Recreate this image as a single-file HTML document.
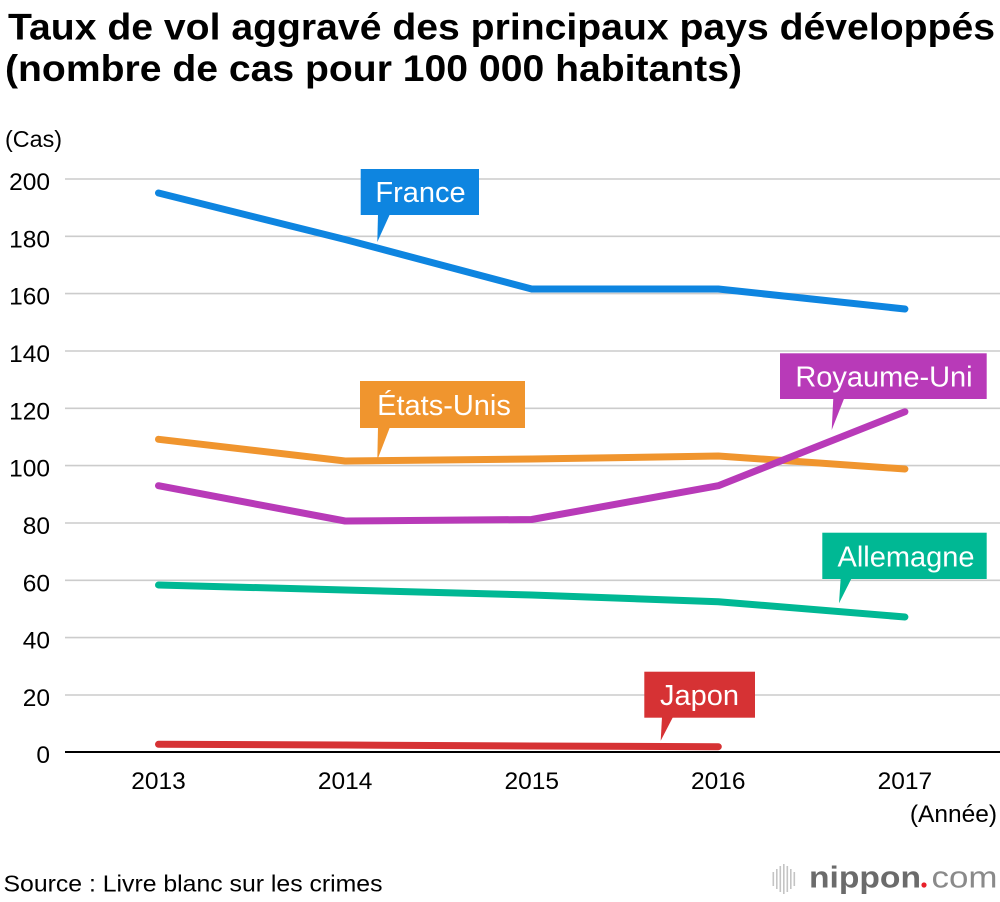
<!DOCTYPE html>
<html>
<head>
<meta charset="utf-8">
<style>
  html, body { margin:0; padding:0; background:#fff; }
  svg { display:block; }
  text { font-family: "Liberation Sans", "DejaVu Sans", sans-serif; }
</style>
</head>
<body>
<svg width="1000" height="902" viewBox="0 0 1000 902" xmlns="http://www.w3.org/2000/svg">
  <rect width="1000" height="902" fill="#fff"/>

  <!-- Title -->
  <text x="8" y="39.5" font-size="37" font-weight="bold" fill="#000" textLength="987" lengthAdjust="spacingAndGlyphs">Taux de vol aggravé des principaux pays développés</text>
  <text x="5" y="81" font-size="37" font-weight="bold" fill="#000" textLength="737" lengthAdjust="spacingAndGlyphs">(nombre de cas pour 100 000 habitants)</text>

  <!-- Unit -->
  <text x="5" y="147" font-size="23" fill="#000" textLength="57" lengthAdjust="spacingAndGlyphs">(Cas)</text>

  <!-- Gridlines -->
  <g stroke="#cccccc" stroke-width="1.6">
    <line x1="65" y1="179" x2="1000" y2="179"/>
    <line x1="65" y1="236.3" x2="1000" y2="236.3"/>
    <line x1="65" y1="293.6" x2="1000" y2="293.6"/>
    <line x1="65" y1="351" x2="1000" y2="351"/>
    <line x1="65" y1="408.3" x2="1000" y2="408.3"/>
    <line x1="65" y1="465.6" x2="1000" y2="465.6"/>
    <line x1="65" y1="523" x2="1000" y2="523"/>
    <line x1="65" y1="580.3" x2="1000" y2="580.3"/>
    <line x1="65" y1="637.6" x2="1000" y2="637.6"/>
    <line x1="65" y1="695" x2="1000" y2="695"/>
  </g>
  <line x1="65" y1="752" x2="1000" y2="752" stroke="#000" stroke-width="2"/>

  <!-- Y tick labels -->
  <g font-size="24.5" fill="#000" text-anchor="end">
    <text x="50" y="190">200</text>
    <text x="50" y="247.3">180</text>
    <text x="50" y="304.6">160</text>
    <text x="50" y="362">140</text>
    <text x="50" y="419.3">120</text>
    <text x="50" y="476.6">100</text>
    <text x="50" y="534">80</text>
    <text x="50" y="591.3">60</text>
    <text x="50" y="648.6">40</text>
    <text x="50" y="706">20</text>
    <text x="50" y="763">0</text>
  </g>

  <!-- X tick labels -->
  <g font-size="24.5" fill="#000" text-anchor="middle">
    <text x="158.5" y="789">2013</text>
    <text x="345.1" y="789">2014</text>
    <text x="531.7" y="789">2015</text>
    <text x="718.3" y="789">2016</text>
    <text x="904.9" y="789">2017</text>
  </g>
  <text x="997" y="822" font-size="24.5" fill="#000" text-anchor="end">(Année)</text>

  <!-- Series -->
  <g fill="none" stroke-width="7" stroke-linecap="round" stroke-linejoin="round">
    <polyline stroke="#d63234" points="158.5,744.3 345.1,745 531.7,746 718.3,746.7"/>
    <polyline stroke="#00b894" points="158.5,585 345.1,590 531.7,595 718.3,601.7 904.9,617"/>
    <polyline stroke="#f0952e" points="158.5,439.3 345.1,461 531.7,459 718.3,456 904.9,469"/>
    <polyline stroke="#b83ab8" points="158.5,485.7 345.1,521 531.7,519.5 718.3,485.7 904.9,411.7"/>
    <polyline stroke="#0e85e0" points="158.5,193 345.1,239.5 531.7,289 718.3,289 904.9,309"/>
  </g>

  <!-- Labels -->
  <g font-size="29" fill="#fff" text-anchor="middle">
    <!-- France -->
    <rect x="360.7" y="169" width="118.3" height="46" fill="#0e85e0"/>
    <polygon points="378,214 390,214 377.3,242" fill="#0e85e0"/>
    <text x="420.5" y="202">France</text>

    <!-- Etats-Unis -->
    <rect x="360" y="381" width="165" height="47" fill="#f0952e"/>
    <polygon points="378,427 390,427 377.3,460" fill="#f0952e"/>
    <text x="444" y="415">États-Unis</text>

    <!-- Royaume-Uni -->
    <rect x="780" y="353.3" width="206.7" height="45.7" fill="#b83ab8"/>
    <polygon points="833.3,398 844.3,398 831.7,430" fill="#b83ab8"/>
    <text x="884" y="386.5">Royaume-Uni</text>

    <!-- Allemagne -->
    <rect x="822.3" y="532.7" width="164.4" height="46.3" fill="#00b894"/>
    <polygon points="840.7,578 851.7,578 839,603.3" fill="#00b894"/>
    <text x="906" y="566.5">Allemagne</text>

    <!-- Japon -->
    <rect x="644.3" y="671.7" width="110.7" height="46" fill="#d63234"/>
    <polygon points="662,717 673,717 660.7,740.7" fill="#d63234"/>
    <text x="699.5" y="705">Japon</text>
  </g>

  <!-- Source -->
  <text x="3.5" y="891.5" font-size="23" fill="#000" textLength="379" lengthAdjust="spacingAndGlyphs">Source : Livre blanc sur les crimes</text>

  <!-- nippon.com logo -->
  <g fill="#c4c4c4">
    <rect x="772.5" y="872" width="1.6" height="14"/>
    <rect x="776" y="869" width="1.6" height="20"/>
    <rect x="779.5" y="866" width="1.6" height="26"/>
    <rect x="783" y="864" width="1.6" height="30"/>
    <rect x="786.5" y="866" width="1.6" height="26"/>
    <rect x="790" y="869" width="1.6" height="20"/>
    <rect x="793.5" y="872" width="1.6" height="14"/>
  </g>
  <text x="809" y="887.5" font-size="31" font-weight="bold" fill="#6b6b6b" textLength="112" lengthAdjust="spacingAndGlyphs">nippon</text>
  <circle cx="924" cy="885" r="2.6" fill="#e8202a"/>
  <text x="931.5" y="887.5" font-size="31" fill="#8a8a8a" textLength="66" lengthAdjust="spacingAndGlyphs">com</text>
</svg>
</body>
</html>
